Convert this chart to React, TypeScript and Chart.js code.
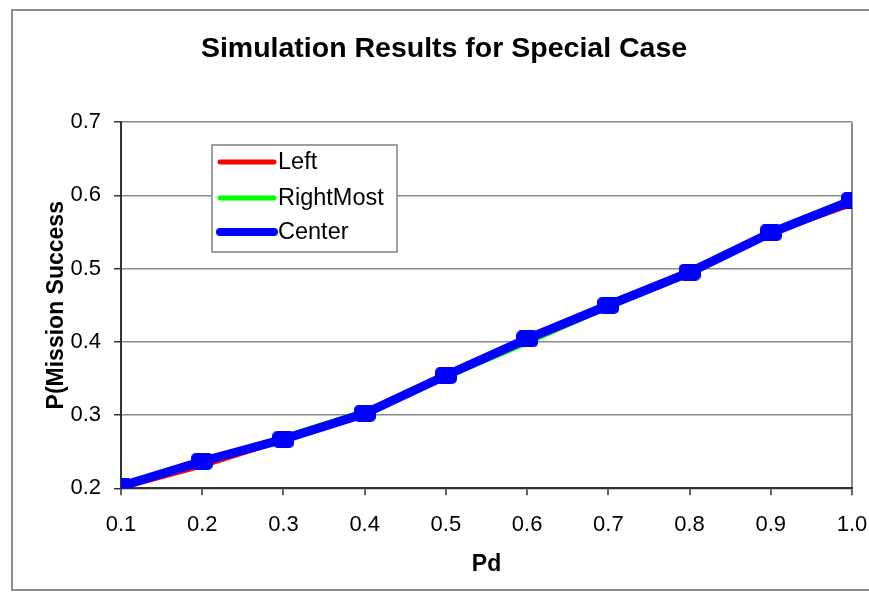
import { useEffect, useRef } from 'react';
import { Chart, registerables } from 'chart.js';

Chart.register(...registerables);

const chartTitle = 'Simulation Results for Special Case';
const xAxisTitle = 'Pd';
const yAxisTitle = 'P(Mission Success';

const pdValues = [0.1, 0.2, 0.3, 0.4, 0.5, 0.6, 0.7, 0.8, 0.9, 1.0];
const leftValues = [0.200, 0.230, 0.265, 0.303, 0.353, 0.405, 0.447, 0.499, 0.548, 0.587];
const rightMostValues = [0.204, 0.238, 0.271, 0.306, 0.351, 0.398, 0.447, 0.493, 0.546, 0.590];
const centerValues = [0.203, 0.237, 0.267, 0.302, 0.354, 0.404, 0.450, 0.495, 0.549, 0.593];

const seriesNames = ['Left', 'RightMost', 'Center'];
const seriesColors = ['#ff0000', '#00ff00', '#0000ff'];
const seriesWidths = [4, 4, 9];
const legendWidths = [5, 5, 8];

const FONT = "'Liberation Sans', Arial, Helvetica, sans-serif";

function makeMarker(color: string) {
  const c = document.createElement('canvas');
  c.width = 22;
  c.height = 17;
  const ctx = c.getContext('2d')!;
  ctx.fillStyle = color;
  ctx.beginPath();
  (ctx as any).roundRect(0, 0, 22, 17, 5);
  ctx.fill();
  return c;
}

const framePlugin = {
  id: 'frame',
  beforeDraw(chart: any) {
    const ctx = chart.ctx;
    ctx.save();
    ctx.fillStyle = '#ffffff';
    ctx.fillRect(0, 0, chart.width, chart.height);
    ctx.strokeStyle = '#8c8c8c';
    ctx.lineWidth = 2;
    ctx.strokeRect(12, 10, chart.width + 20, chart.height - 12);
    ctx.restore();
  },
};

const boxLegendPlugin = {
  id: 'boxLegend',
  afterDatasetsDraw(chart: any) {
    const ctx = chart.ctx;
    const bx = 212, by = 145, bw = 185, bh = 107;
    ctx.save();
    ctx.fillStyle = '#ffffff';
    ctx.fillRect(bx, by, bw, bh);
    ctx.strokeStyle = '#808080';
    ctx.lineWidth = 1.5;
    ctx.strokeRect(bx, by, bw, bh);
    const rows = [162, 198, 232];
    chart.data.datasets.forEach((ds: any, i: number) => {
      const y = rows[i];
      ctx.strokeStyle = ds.borderColor;
      ctx.lineWidth = legendWidths[i];
      ctx.lineCap = 'round';
      ctx.beginPath();
      ctx.moveTo(220, y);
      ctx.lineTo(274, y);
      ctx.stroke();
      ctx.fillStyle = '#000000';
      ctx.font = `23.5px ${FONT}`;
      ctx.textBaseline = 'middle';
      ctx.textAlign = 'left';
      ctx.fillText(ds.label, 278, y + 1);
    });
    ctx.restore();
  },
};

export default function App() {
  const ref = useRef<HTMLCanvasElement | null>(null);

  useEffect(() => {
    if (!ref.current) return;
    const valueSets = [leftValues, rightMostValues, centerValues];
    const marker = makeMarker(seriesColors[2]);
    const datasets = seriesNames.map((name, i) => ({
      label: name,
      data: pdValues.map((x, j) => ({ x, y: valueSets[i][j] })),
      borderColor: seriesColors[i],
      backgroundColor: seriesColors[i],
      borderWidth: seriesWidths[i],
      pointRadius: i === 2 ? 8 : 0,
      pointStyle: i === 2 ? (marker as any) : 'circle',
      tension: 0,
      order: 2 - i,
      clip: 0,
    }));

    const chart = new Chart(ref.current, {
      type: 'line',
      data: { datasets },
      plugins: [framePlugin, boxLegendPlugin],
      options: {
        animation: false,
        responsive: false,
        layout: { padding: { left: 36, right: 17, top: 0, bottom: 0 } },
        plugins: {
          legend: { display: false },
          tooltip: { enabled: false },
          title: {
            display: true,
            text: chartTitle,
            color: '#000',
            font: { family: FONT, size: 28.5, weight: 'bold' },
            padding: { top: 32, bottom: 56 },
          },
        },
        scales: {
          x: {
            type: 'linear',
            min: 0.1,
            max: 1.0,
            afterFit: (s: any) => {
              s.height = 103.7;
              s.paddingLeft = 0;
              s.paddingRight = 0;
            },
            ticks: {
              stepSize: 0.1,
              color: '#000',
              padding: 16,
              font: { family: FONT, size: 22 },
              callback: (v: any) => Number(v).toFixed(1),
            },
            grid: {
              color: (c: any) => (c.index === pdValues.length - 1 ? '#8a8a8a' : 'rgba(0,0,0,0)'),
              lineWidth: 2,
              tickColor: '#333',
              tickLength: 7,
              tickWidth: 1.5,
            },
            border: { color: '#333', width: 2 },
            title: {
              display: true,
              text: xAxisTitle,
              color: '#000',
              font: { family: FONT, size: 23, weight: 'bold' },
              padding: { top: 0, bottom: 14 },
            },
          },
          y: {
            min: 0.2,
            max: 0.7,
            afterFit: (s: any) => {
              s.width = 85;
              s.paddingTop = 0;
              s.paddingBottom = 0;
            },
            ticks: {
              stepSize: 0.1,
              color: '#000',
              padding: 13,
              font: { family: FONT, size: 22 },
              callback: (v: any) => Number(v).toFixed(1),
            },
            grid: {
              color: '#8a8a8a',
              lineWidth: 1.5,
              tickColor: '#333',
              tickLength: 7,
              tickWidth: 1.5,
            },
            border: { color: '#333', width: 2 },
            title: {
              display: true,
              text: yAxisTitle,
              color: '#000',
              font: { family: FONT, size: 23, weight: 'bold' },
              padding: { top: 7, bottom: 0 },
            },
          },
        },
      } as any,
    });
    return () => chart.destroy();
  }, []);

  return (
    <div style={{ position: 'fixed', left: 0, top: 0, width: 869, height: 592 }}>
      <canvas ref={ref} width={869} height={592} style={{ display: 'block' }} />
    </div>
  );
}
